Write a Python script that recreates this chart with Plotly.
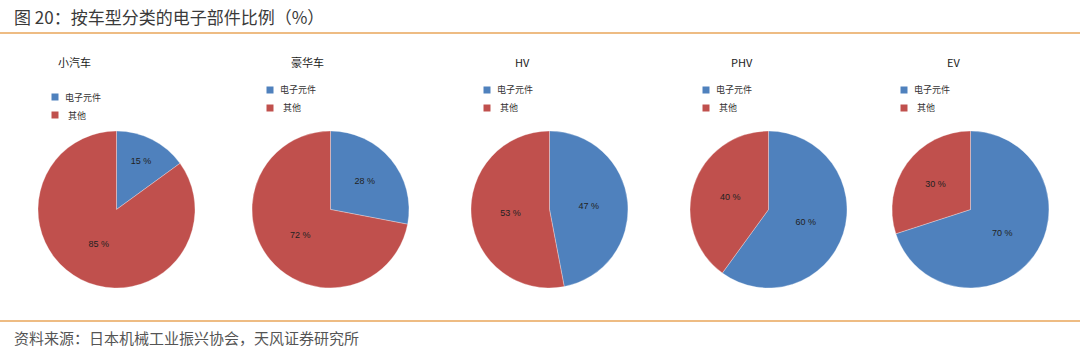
import plotly.graph_objects as go

W, H = 1080, 348
categories = ["小汽车", "豪华车", "HV", "PHV", "EV"]
slice_labels = ["电子元件", "其他"]
electronic = [15, 28, 47, 60, 70]
other = [85, 72, 53, 40, 30]
colors = ["#4F81BD", "#C0504D"]

# layout (pixels)
pie_left = [38, 252, 471, 690, 892]
pie_size = 157
pie_top = 131
title_x = [74, 307, 522, 742, 953]
leg_x = [55, 270, 487, 706, 904]
leg_y = [97, 90, 90, 90, 90]

def px(x):
    return x / W

def py(y):
    return 1 - y / H

FONT = "Noto Sans CJK SC"
fig = go.Figure()
for i, cat in enumerate(categories):
    fig.add_trace(go.Pie(
        labels=slice_labels,
        values=[electronic[i], other[i]],
        sort=False, direction="clockwise", rotation=0,
        marker=dict(colors=colors, line=dict(color="rgba(255,255,255,0.6)", width=0.5)),
        textinfo="value", texttemplate="%{value} %",
        textposition="inside", insidetextorientation="horizontal",
        textfont=dict(size=9, color="#222", family="Liberation Sans"),
        domain=dict(x=[px(pie_left[i]), px(pie_left[i] + pie_size)],
                    y=[py(pie_top + pie_size), py(pie_top)]),
        showlegend=False, hoverinfo="label+value",
    ))

annotations = []
shapes = []
for i, cat in enumerate(categories):
    annotations.append(dict(x=px(title_x[i]), y=py(62), xref="paper", yref="paper",
                            text=cat, showarrow=False, xanchor="center", yanchor="middle",
                            font=dict(size=11, color="#222", family=FONT)))
    for j, lab in enumerate(slice_labels):
        yy = leg_y[i] + j * 18
        shapes.append(dict(type="rect", xref="paper", yref="paper",
                           x0=px(leg_x[i] - 3.5), x1=px(leg_x[i] + 3.5),
                           y0=py(yy + 3.5), y1=py(yy - 3.5),
                           fillcolor=colors[j], line=dict(width=0)))
        annotations.append(dict(x=px(leg_x[i] + 8 + (3 if j == 1 else 0)), y=py(yy),
                                xref="paper", yref="paper", text=lab, showarrow=False,
                                xanchor="left", yanchor="middle",
                                font=dict(size=9, color="#333", family=FONT)))

# header and footer
annotations.append(dict(x=px(12), y=py(17), xref="paper", yref="paper",
                        text="图 20：按车型分类的电子部件比例（%）", showarrow=False,
                        xanchor="left", yanchor="middle",
                        font=dict(size=17, color="#3a3a3a", family=FONT)))
annotations.append(dict(x=px(12), y=py(337), xref="paper", yref="paper",
                        text="资料来源：日本机械工业振兴协会，天风证券研究所", showarrow=False,
                        xanchor="left", yanchor="middle",
                        font=dict(size=15, color="#555", family=FONT)))
for yl in (33, 321):
    shapes.append(dict(type="line", xref="paper", yref="paper",
                       x0=0, x1=1, y0=py(yl), y1=py(yl),
                       line=dict(color="#E9A65A", width=1.5)))

fig.update_layout(width=W, height=H, margin=dict(l=0, r=0, t=0, b=0),
                  paper_bgcolor="white", plot_bgcolor="white",
                  annotations=annotations, shapes=shapes)
fig.write_html("out.html")
